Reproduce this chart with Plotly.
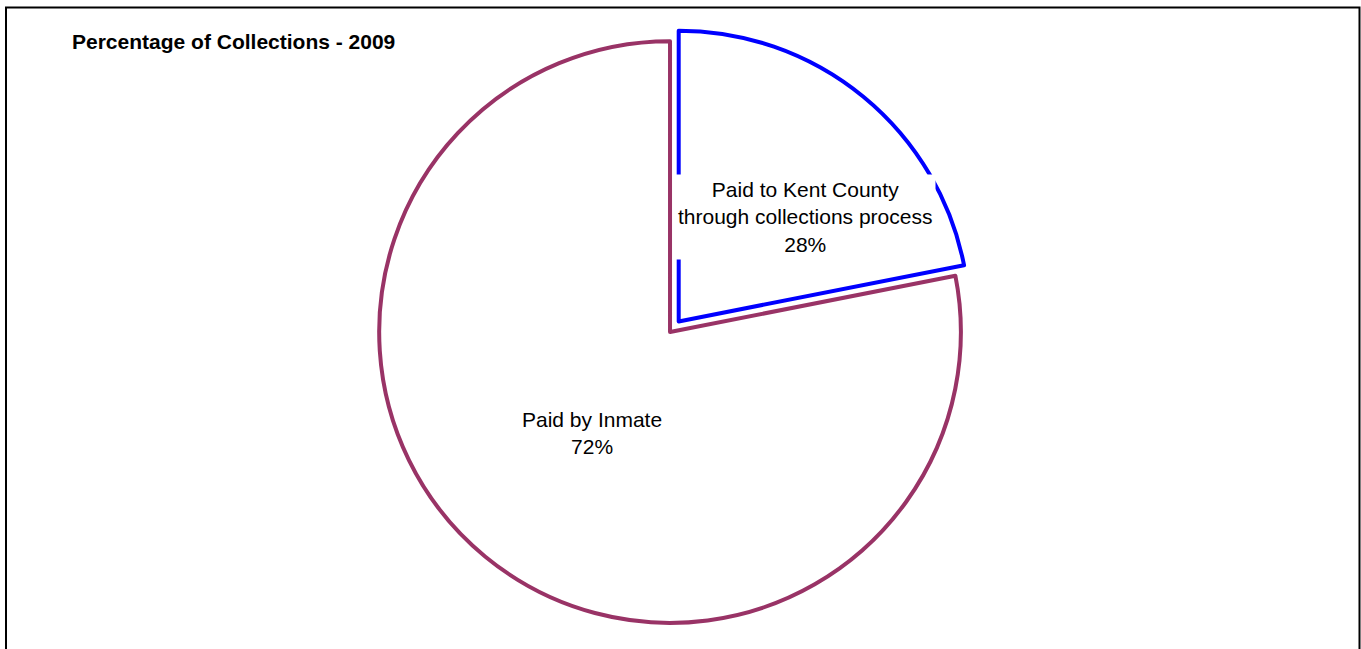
import plotly.graph_objects as go

# Data (slice sizes as drawn in the reference; printed labels as shown)
categories = ["Paid to Kent County through collections process", "Paid by Inmate"]
label_lines = ["Paid to Kent County<br>through collections process", "Paid by Inmate"]
slice_shares = [21.9, 78.1]
pct_labels = ["28%", "72%"]
outline_colors = ["#0000FF", "#993366"]
pulls = [0.047, 0.0]
title_text = "Percentage of Collections - 2009"

W, H = 1361, 649
FONT = "Liberation Sans, Arial, sans-serif"

fig = go.Figure()
fig.add_trace(go.Pie(
    labels=categories,
    values=slice_shares,
    sort=False,
    direction="clockwise",
    rotation=0,
    pull=pulls,
    textinfo="none",
    hoverinfo="label+percent",
    showlegend=False,
    marker=dict(colors=["white", "white"], line=dict(color=outline_colors, width=4)),
    domain=dict(x=[0.2423, 0.7423], y=[0.0192, 0.9576]),
))

# Slice labels with white boxes (as in the reference)
label_pos = [(805, 217), (592, 433)]
for txt, pct, (px, py) in zip(label_lines, pct_labels, label_pos):
    fig.add_annotation(
        x=px / W, y=1 - py / H, xref="paper", yref="paper",
        text=f"{txt}<br>{pct}", showarrow=False,
        xanchor="center", yanchor="middle",
        font=dict(family=FONT, size=21, color="black"),
        bgcolor="white", borderpad=3,
    )

fig.add_annotation(
    x=70 / W, y=1 - 42 / H, xref="paper", yref="paper",
    text=f"<b>{title_text}</b>", showarrow=False,
    xanchor="left", yanchor="middle",
    font=dict(family=FONT, size=21, color="black"),
)

# Outer frame
fig.add_shape(type="rect", xref="paper", yref="paper",
              x0=6 / W, x1=1359.5 / W, y0=-0.1, y1=1 - 7.5 / H,
              line=dict(color="black", width=2), fillcolor="rgba(0,0,0,0)")

fig.update_layout(
    width=W, height=H,
    margin=dict(l=0, r=0, t=0, b=0),
    paper_bgcolor="white", plot_bgcolor="white",
    font=dict(family=FONT),
)

fig.write_html(
    "out.html",
    config={"displayModeBar": False},
    post_script="document.body.style.margin='0';document.body.style.padding='0';",
)
